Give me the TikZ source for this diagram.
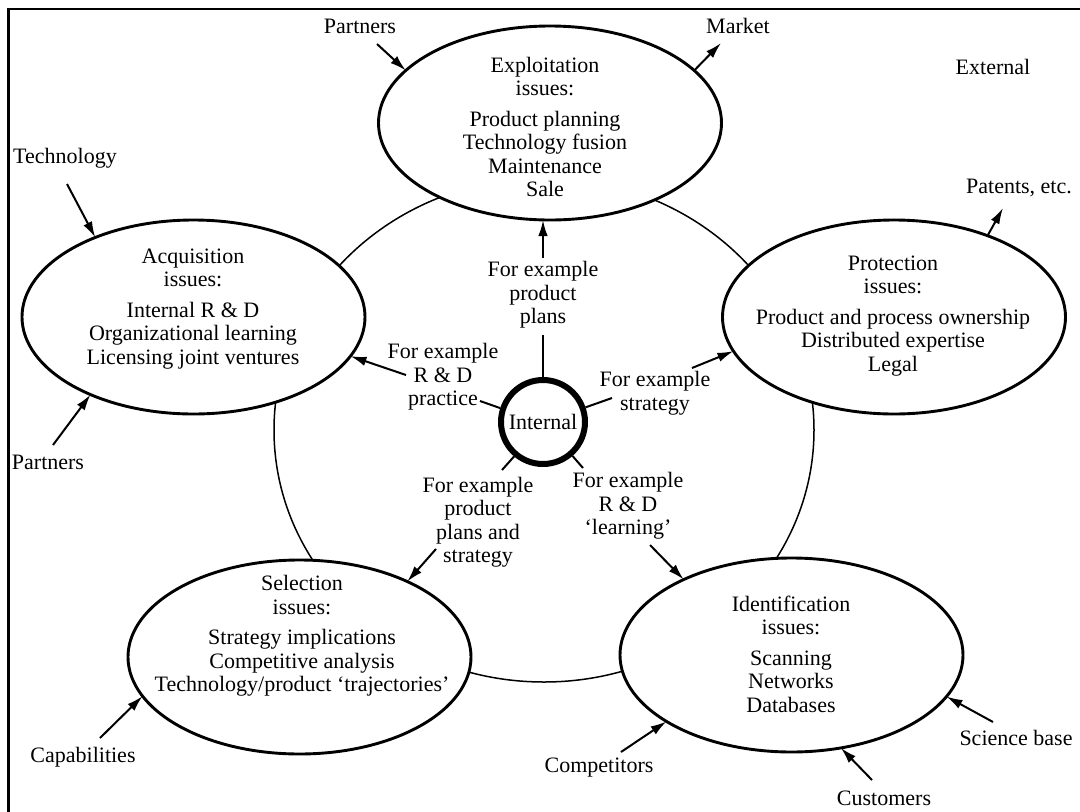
\documentclass[tikz,border=0pt]{standalone}
\usepackage{fontspec}
\setmainfont{Liberation Serif}
\usetikzlibrary{shapes.geometric,arrows.meta}
\begin{document}
\begin{tikzpicture}[x=1pt,y=-1pt,
  font=\fontsize{22}{23.5}\selectfont,
  issue/.style={draw, ellipse, line width=2.9pt, fill=white, inner sep=0pt, outer sep=0pt,
                minimum width=343pt, minimum height=194pt},
  txt/.style={align=center, inner sep=0pt},
  arr/.style={line width=2pt, -{Latex[length=16pt,width=9.5pt]}},
  spoke/.style={line width=2pt}]
\useasboundingbox (0,0) rectangle (1080,812);
% frame
\draw[line width=2.5pt] (1080,9) -- (8.5,9) -- (8.5,812);
% ring
\draw[line width=1.5pt] (544,430) ellipse [x radius=270, y radius=252];
% issue ellipses
\node[issue] (E) at (550,123) {};
\node[issue] (A) at (193.5,317) {};
\node[issue] (P) at (894,317) {};
\node[issue] (S) at (299.5,657) {};
\node[issue] (I) at (791.5,655) {};
\node[txt] (Et) at (545,127) {Exploitation\\issues:\\[7pt]Product planning\\Technology fusion\\Maintenance\\Sale};
\node[txt] (At) at (193,309) {Acquisition\\issues:\\[7pt]Internal R \& D\\Organizational learning\\Licensing joint ventures};
\node[txt] (Pt) at (893,316) {Protection\\issues:\\[7pt]Product and process ownership\\Distributed expertise\\Legal};
\node[txt] (St) at (302,636) {Selection\\issues:\\[7pt]Strategy implications\\Competitive analysis\\Technology/product `trajectories'};
\node[txt] (It) at (791,654) {Identification\\issues:\\[7pt]Scanning\\Networks\\Databases};
% internal
\node[draw, circle, line width=6pt, minimum size=84pt, inner sep=0pt, fill=white] (C) at (543,422) {Internal};
% spokes
\coordinate (cu) at (543,335);
\coordinate (cl) at (480,401);
\coordinate (cr) at (612,398);
\coordinate (cll) at (502,470);
\coordinate (clr) at (583,468);
\draw[spoke] (C.north) -- (cu);
\draw[spoke] (C.162) -- (cl);
\draw[spoke] (C.19) -- (cr);
\draw[spoke] (C.230) -- (cll);
\draw[spoke] (C.311) -- (clr);
% inner labels
\node[txt] (Lu) at (543,295) {For example\\product\\plans};
\node[txt] (Ll) at (443,377) {For example\\R \& D\\practice};
\node[txt] (Lr) at (655,393) {For example\\strategy};
\node[txt] (Lll) at (478,522) {For example\\product\\plans and\\strategy};
\node[txt] (Llr) at (628,506) {For example\\R \& D\\`learning'};
% inner arrows
\coordinate (au) at (543,258);
\coordinate (al) at (406,375);
\coordinate (ar) at (692,368);
\coordinate (all) at (436,549);
\coordinate (alr) at (650,545);
\draw[arr] (au) -- (au |- E.south);
\draw[arr] (al) -- (A.346.8);
\draw[arr] (ar) -- (P.192.9);
\draw[arr] (all) -- (S.35.4);
\draw[arr] (alr) -- (I.145.3);
% external labels
\node[txt] (xPart1) at (360,26) {Partners};
\node[txt] (xMark) at (738,26) {Market};
\node[txt] (xExt) at (993,67) {External};
\node[txt] (xPat) at (1019,188) {Patents, etc.};
\node[txt] (xTech) at (65,158) {Technology};
\node[txt] (xPart2) at (48,462) {Partners};
\node[txt] (xCap) at (83,757) {Capabilities};
\node[txt] (xComp) at (599,768) {Competitors};
\node[txt] (xCust) at (884,798) {Customers};
\node[txt] (xSci) at (1016,738) {Science base};
% external arrow ends
\coordinate (tPart1) at (377,44);
\coordinate (tMark) at (721,43);
\coordinate (tPat) at (1003,208);
\coordinate (tTech) at (67,184);
\coordinate (tPart2) at (53,445);
\coordinate (tCap) at (100,738);
\coordinate (tComp) at (621,752);
\coordinate (tCust) at (872,780);
\coordinate (tSci) at (993,722);
\draw[arr] (tPart1) -- (E.160.5);
\draw[arr] (E.20.3) -- (tMark);
\draw[arr] (P.41.5) -- (tPat);
\draw[arr] (tTech) -- (A.141.5);
\draw[arr] (tPart2) -- (A.217.6);
\draw[arr] (tCap) -- (S.194.2);
\draw[arr] (tComp) -- (I.208.1);
\draw[arr] (tCust) -- (I.298);
\draw[arr] (tSci) -- (I.345.9);
\end{tikzpicture}
\end{document}
